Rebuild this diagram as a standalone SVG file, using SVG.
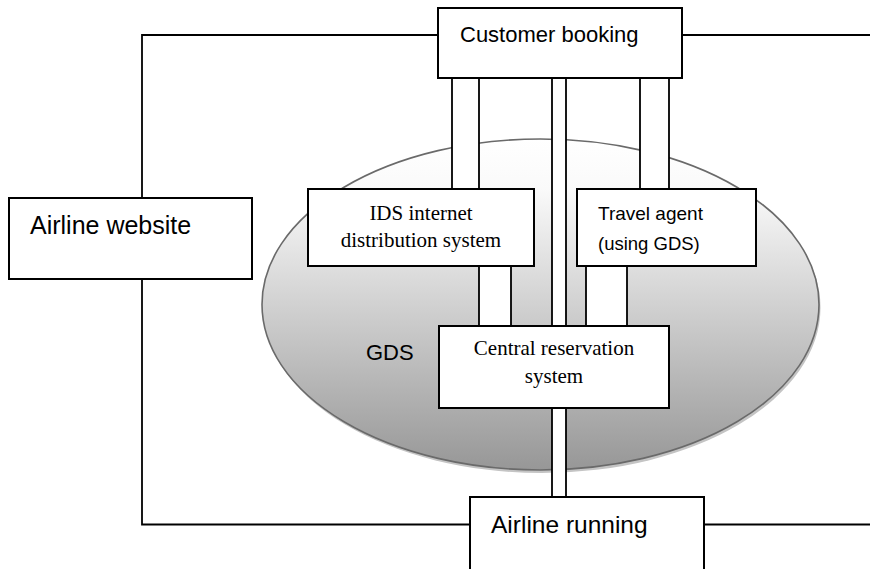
<svg xmlns="http://www.w3.org/2000/svg" width="870" height="569" viewBox="0 0 870 569">
  <style>
    .box { fill: #ffffff; stroke: #000000; stroke-width: 2; }
    .wire { fill: none; stroke: #000000; stroke-width: 1.8; }
    .bar-fill { fill: #ffffff; stroke: none; }
    .bar-edge { fill: none; stroke: #000000; stroke-width: 1.8; }
    .sans { font-family: "Liberation Sans", Arial, sans-serif; fill: #000000; }
    .serif { font-family: "Liberation Serif", "Times New Roman", serif; fill: #000000; font-size: 21px; text-anchor: middle; }
  </style>
  <defs>
    <linearGradient id="gdsFill" x1="0" y1="0" x2="0" y2="1">
      <stop offset="0" stop-color="#ffffff"/>
      <stop offset="0.15" stop-color="#fafafa"/>
      <stop offset="1" stop-color="#979797"/>
    </linearGradient>
  </defs>

  <!-- GDS region -->
  <g id="gds">
    <ellipse cx="542" cy="307.5" rx="278.5" ry="165.5" fill="#c4c4c4"/>
    <ellipse cx="540.5" cy="304.5" rx="278.5" ry="165.5" fill="url(#gdsFill)" stroke="#6a6a6a" stroke-width="1.6"/>
    <text class="sans" x="366" y="360" font-size="22">GDS</text>
  </g>

  <!-- connectors -->
  <g id="connectors">
    <!-- single lines -->
    <path class="wire" d="M438,35 H142 V198"/>
    <path class="wire" d="M682,35 H870"/>
    <path class="wire" d="M142,279 V524.5 H470"/>
    <path class="wire" d="M704,524.5 H870"/>

    <!-- double-line channels -->
    <rect class="bar-fill" x="452" y="78" width="27" height="111"/>
    <path class="bar-edge" d="M452,78 V189 M479,78 V189"/>

    <rect class="bar-fill" x="640" y="78" width="29" height="111"/>
    <path class="bar-edge" d="M640,78 V189 M669,78 V189"/>

    <rect class="bar-fill" x="552" y="78" width="14" height="419"/>
    <path class="bar-edge" d="M552,78 V497 M566,78 V497"/>

    <rect class="bar-fill" x="479" y="266" width="32" height="60"/>
    <path class="bar-edge" d="M479,266 V326 M511,266 V326"/>

    <rect class="bar-fill" x="586" y="266" width="41" height="60"/>
    <path class="bar-edge" d="M586,266 V326 M627,266 V326"/>
  </g>

  <g id="customer-booking">
    <rect class="box" x="438" y="8" width="244" height="70"/>
    <text class="sans" x="460" y="42" font-size="22">Customer booking</text>
  </g>

  <g id="airline-website">
    <rect class="box" x="9" y="198" width="243" height="81"/>
    <text class="sans" x="30" y="234" font-size="25">Airline website</text>
  </g>

  <g id="ids">
    <rect class="box" x="308" y="189" width="226" height="77"/>
    <text class="serif" x="421" y="220">IDS internet</text>
    <text class="serif" x="421" y="247">distribution system</text>
  </g>

  <g id="travel-agent">
    <rect class="box" x="577" y="189" width="179" height="77"/>
    <text class="sans" x="598" y="220" font-size="19">Travel agent</text>
    <text class="sans" x="598" y="250" font-size="18.5">(using GDS)</text>
  </g>

  <g id="central-reservation">
    <rect class="box" x="439" y="326" width="230" height="82"/>
    <text class="serif" x="554" y="355">Central reservation</text>
    <text class="serif" x="554" y="383">system</text>
  </g>

  <g id="airline-running">
    <rect class="box" x="470" y="497" width="234" height="80"/>
    <text class="sans" x="491" y="533" font-size="24.5">Airline running</text>
  </g>
</svg>
